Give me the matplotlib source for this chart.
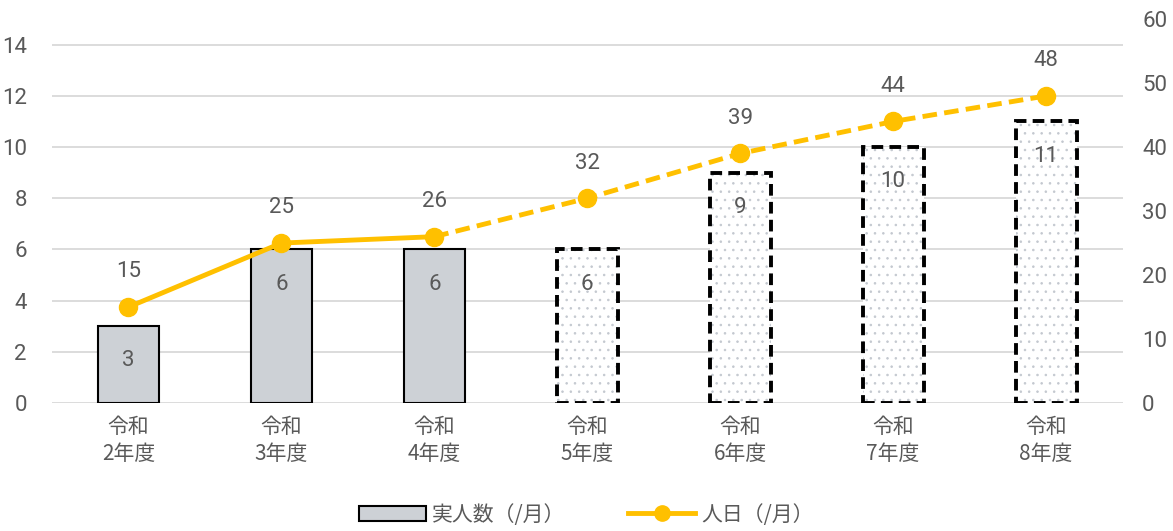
import matplotlib.pyplot as plt
from matplotlib import rcParams
from matplotlib.patches import Patch
from matplotlib.lines import Line2D

# フォント設定
rcParams['font.family'] = ['Roboto', 'DejaVu Sans', 'Noto Sans CJK JP']
rcParams['hatch.linewidth'] = 0.6

# データ
categories = ['令和\n2年度', '令和\n3年度', '令和\n4年度', '令和\n5年度',
              '令和\n6年度', '令和\n7年度', '令和\n8年度']
people = [3, 6, 6, 6, 9, 10, 11]          # 実人数（/月）
person_days = [15, 25, 26, 32, 39, 44, 48]  # 人日（/月）
n_actual = 3  # 実績（令和2〜4年度）、以降は見込み

text_gray = '#595959'
yellow = '#FFC000'
bar_gray = '#CDD1D6'
dot_gray = '#C3C8CF'
cjk = ['Noto Sans CJK JP', 'DejaVu Sans']

fig = plt.figure(figsize=(11.73, 5.31), dpi=100)
ax = fig.add_axes([0.0443, 0.241, 0.9127, 0.723])
ax2 = ax.twinx()

x = list(range(len(categories)))

# 棒グラフ
for i in x:
    if i < n_actual:
        ax.bar(i, people[i], width=0.4, color=bar_gray, edgecolor='black',
               linewidth=1.5, zorder=2)
    else:
        # 見込み：点模様＋破線の枠
        ax.bar(i, people[i], width=0.4, color='white', edgecolor=dot_gray,
               linewidth=0, hatch='..', zorder=2)
        ax.bar(i, people[i], width=0.4, fill=False, edgecolor='black',
               linewidth=2.8, linestyle=(0, (3, 1.6)), zorder=2)
    ax.text(i, people[i] - 1.35, str(people[i]), ha='center', va='center',
            fontsize=16, color=text_gray, zorder=3)

# 折れ線グラフ
ax2.plot(x[:n_actual], person_days[:n_actual], color=yellow, linewidth=3.5,
         zorder=3)
ax2.plot(x[n_actual - 1:], person_days[n_actual - 1:], color=yellow,
         linewidth=3.5, linestyle=(0, (3, 1.5)), zorder=3)
ax2.plot(x, person_days, 'o', color=yellow, markersize=13, zorder=4)
for i in x:
    ax2.text(i, person_days[i] + 5.5, str(person_days[i]), ha='center',
             va='center', fontsize=16, color=text_gray)

# 軸
ax.set_xlim(-0.5, 6.5)
ax.set_ylim(0, 15)
ax.set_yticks(range(0, 15, 2))
ax2.set_ylim(0, 60)
ax2.set_yticks(range(0, 61, 10))
ax.grid(axis='y', color='#D9D9D9', linewidth=1.3, zorder=0)
ax.set_axisbelow(True)
ax.set_xticks(x)
ax.set_xticklabels(categories, family=cjk, fontsize=15, color=text_gray,
                   linespacing=1.3)
for a in (ax, ax2):
    for s in a.spines.values():
        s.set_visible(False)
    a.tick_params(axis='y', length=0, labelsize=16, colors=text_gray, pad=18)
ax.tick_params(axis='x', length=0, pad=9)
ax2.tick_params(axis='y', pad=14)

# 凡例
handles = [
    Patch(facecolor=bar_gray, edgecolor='black', linewidth=1.5),
    Line2D([0], [0], color=yellow, linewidth=3.5, marker='o', markersize=11),
]
fig.legend(handles, ['実人数（/月）', '人日（/月）'], loc='lower center',
           ncol=2, frameon=False, bbox_to_anchor=(0.5, -0.025),
           prop={'family': cjk, 'size': 15}, labelcolor=text_gray,
           handlelength=3.2, handletextpad=0.3, columnspacing=3)

plt.savefig('out.png', dpi=100)
plt.close()
